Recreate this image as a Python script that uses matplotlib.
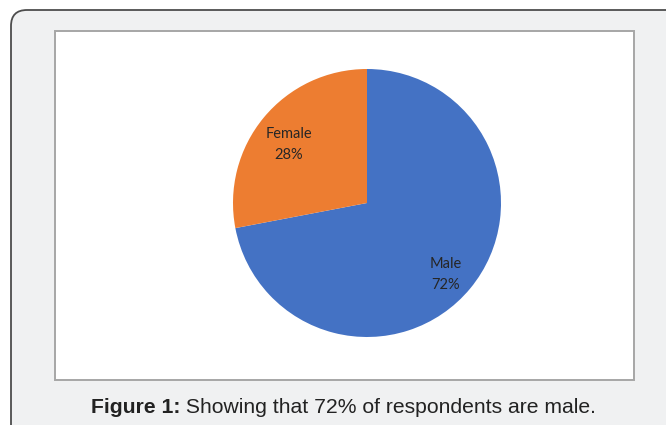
import matplotlib.pyplot as plt
from matplotlib.patches import FancyBboxPatch, Rectangle

# Respondent gender split
genders = ["Male", "Female"]
shares = [72, 28]
colors = ["#4472C4", "#ED7D31"]

caption_bold = "Figure 1:"
caption_rest = " Showing that 72% of respondents are male."

W, H = 666, 425
fig = plt.figure(figsize=(W / 100, H / 100), dpi=100)
fig.patch.set_facecolor("white")

# Background axes in pixel units for the frame and caption
bg = fig.add_axes([0, 0, 1, 1])
bg.set_xlim(0, W)
bg.set_ylim(H, 0)
bg.axis("off")

bg.add_patch(FancyBboxPatch((11, 10), 700, 480, boxstyle="round,pad=0,rounding_size=16",
                            facecolor="#f0f1f2", edgecolor="#4d4d4d", linewidth=1.3))
bg.add_patch(Rectangle((55, 31), 579, 349, facecolor="white",
                       edgecolor="#a6a6a6", linewidth=1.4))

head = bg.text(91, 413, caption_bold, fontsize=15.2, fontweight="bold",
               family="Liberation Sans", color="#222222", va="baseline")
bg.annotate(caption_rest, xy=(1, 0), xycoords=head, va="bottom", ha="left",
            fontsize=15.2, family="Liberation Sans", color="#222222")

# Pie axes: centre (367, 203), radius 134 px
r = 134
cx, cy = 367, 203
pie_ax = fig.add_axes([(cx - r) / W, (H - cy - r) / H, 2 * r / W, 2 * r / H])
labels = [f"{g}\n{s}%" for g, s in zip(genders, shares)]
wedges, texts = pie_ax.pie(shares, colors=colors, startangle=90, counterclock=False,
                           labels=labels, labeldistance=0.76,
                           wedgeprops=dict(linewidth=0))
for t in texts:
    x, y = t.get_position()
    t.set_position((x, y - 0.05))
    t.set_fontsize(10.5)
    t.set_family("Lato")
    t.set_color("#262626")
    t.set_ha("center")
    t.set_va("center")
    t.set_linespacing(1.65)
pie_ax.set_xlim(-1, 1)
pie_ax.set_ylim(-1, 1)

fig.savefig("out.png", dpi=100)
